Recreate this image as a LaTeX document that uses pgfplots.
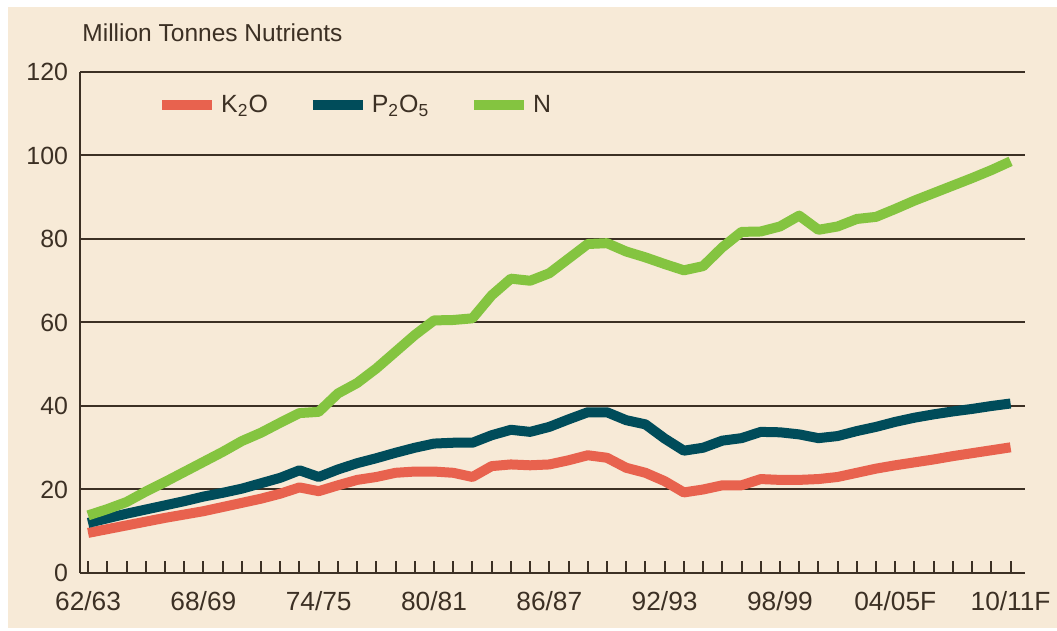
\documentclass[border=0pt]{standalone}
\usepackage{fontspec}
\setmainfont{Liberation Sans}
\usepackage{pgfplots}
\pgfplotsset{compat=1.18}
\usepackage{pgfplotstable}
\definecolor{bg}{RGB}{247,234,215}
\definecolor{gridc}{RGB}{60,48,36}
\definecolor{kcol}{RGB}{232,98,78}
\definecolor{pcol}{RGB}{0,76,90}
\definecolor{ncol}{RGB}{132,196,64}
\pgfplotstableread{
i K P N
0 9.6 12.0 13.8
1 10.5 13.1 15.3
2 11.4 14.2 17.0
3 12.3 15.2 19.5
4 13.2 16.2 21.8
5 14.0 17.2 24.2
6 14.8 18.3 26.6
7 15.8 19.2 29.0
8 16.8 20.2 31.6
9 17.8 21.5 33.6
10 19.0 22.8 36.0
11 20.5 24.6 38.3
12 19.6 23.0 38.6
13 21.0 24.8 43.0
14 22.3 26.3 45.5
15 23.0 27.5 49.0
16 24.0 28.8 53.0
17 24.3 30.0 57.0
18 24.3 31.0 60.5
19 24.0 31.2 60.6
20 23.0 31.2 61.0
21 25.6 33.0 66.5
22 26.0 34.3 70.5
23 25.8 33.8 70.0
24 26.0 35.0 71.8
25 27.0 36.8 75.3
26 28.2 38.5 78.8
27 27.6 38.5 79.0
28 25.2 36.6 77.0
29 24.0 35.6 75.6
30 22.0 32.2 74.0
31 19.3 29.3 72.5
32 20.0 30.0 73.5
33 21.0 31.7 78.0
34 21.0 32.3 81.7
35 22.5 33.8 81.8
36 22.3 33.7 83.0
37 22.3 33.2 85.6
38 22.5 32.3 82.2
39 23.0 32.8 83.0
40 24.0 34.0 84.8
41 25.0 35.0 85.3
42 25.8 36.2 87.2
43 26.5 37.2 89.2
44 27.2 38.0 91.0
45 28.0 38.7 92.8
46 28.7 39.3 94.6
47 29.4 40.0 96.5
48 30.1 40.6 98.6
}\datatable
\begin{document}
\begin{tikzpicture}
\fill[white] (-40bp,-29bp) rectangle (488.5bp,286.5bp);
\fill[bg] (-36bp,-27.5bp) rectangle (488.5bp,283bp);
\begin{axis}[
  name=ax,
  scale only axis, width=472.5bp, height=250.5bp,
  xmin=-0.42, xmax=48.75, ymin=0, ymax=120,
  axis x line*=bottom, axis y line*=left,
  axis line style={gridc, line width=1bp},
  ytick={0,20,...,120},
  ymajorgrids,
  major grid style={gridc, line width=1bp},
  ytick style={draw=none},
  xtick={0,6,...,48},
  xticklabels={62/63,68/69,74/75,80/81,86/87,92/93,98/99,04/05F,10/11F},
  minor xtick={0,...,48},
  tick align=inside,
  major tick length=6bp, minor tick length=6bp,
  xtick style={gridc, line width=1bp},
  minor x tick style={gridc, line width=1bp},
  /pgf/number format/assume math mode=true,
  yticklabel style={font=\fontsize{12.5}{14}\selectfont, text=gridc, xshift=-2.5bp},
  xticklabel style={font=\fontsize{13.2}{15}\selectfont, text=gridc, yshift=-5.5bp},
  legend columns=3,
  legend style={draw=none, fill=none, at={(axis description cs:0.075,0.934)}, anchor=west,
    font=\fontsize{12.5}{14}\selectfont, text=gridc,
    /tikz/every even column/.append style={column sep=18bp}},
  legend image code/.code={\draw[#1,line width=5bp] (0bp,0bp) -- (25bp,0bp);},
]
\addplot[kcol, line width=5bp, line join=round] table[x=i,y=K]{\datatable};
\addlegendentry{K\textsubscript{2}O}
\addplot[pcol, line width=5bp, line join=round] table[x=i,y=P]{\datatable};
\addlegendentry{P\textsubscript{2}O\textsubscript{5}}
\addplot[ncol, line width=5bp, line join=round] table[x=i,y=N]{\datatable};
\addlegendentry{N}
\end{axis}
\node[anchor=west, font=\fontsize{12.3}{14}\selectfont, text=gridc, inner sep=0pt] at ([xshift=1bp, yshift=19.5bp]ax.north west) {Million Tonnes Nutrients};
\pgfresetboundingbox
\path[use as bounding box] (-40bp,-29bp) rectangle (488.5bp,286.5bp);
\end{tikzpicture}
\end{document}
